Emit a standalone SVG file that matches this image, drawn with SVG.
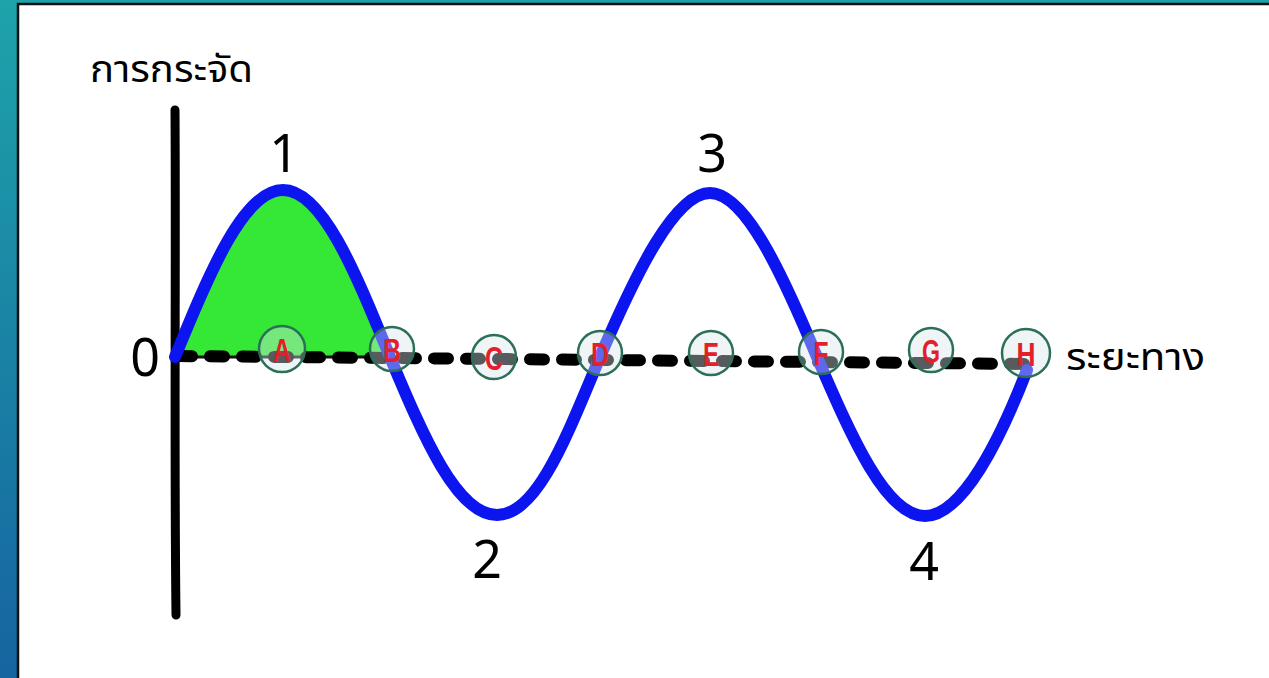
<svg xmlns="http://www.w3.org/2000/svg" width="1269" height="678" viewBox="0 0 1269 678">
<defs>
<linearGradient id="bg" x1="0" y1="0" x2="0" y2="1">
<stop offset="0" stop-color="#1ea3aa"/>
<stop offset="1" stop-color="#1664a0"/>
</linearGradient>
<style>
.num{font-family:"Noto Sans","DejaVu Sans",sans-serif;font-size:52px;fill:#000;text-anchor:middle}
.thai{font-family:"Noto Sans Thai","Loma","Garuda","Norasi","Noto Sans",sans-serif;font-size:38px;fill:#000}
.pt circle{fill:#d6e6e8;fill-opacity:0.4;stroke:#2c6f58;stroke-width:2.5}
.pt text{font-family:"Liberation Sans",Arial,sans-serif;font-weight:bold;font-size:34px;fill:#e3202a;text-anchor:middle}
.wave{fill:none;stroke:#0c14f0;stroke-width:12;stroke-linecap:round;stroke-linejoin:round}
</style>
</defs>
<rect x="0" y="0" width="1269" height="678" fill="url(#bg)"/>
<rect x="18" y="4" width="1253" height="676" fill="#fff" stroke="#111" stroke-width="2.5"/>

<g id="hump-fill">
<path d="M178,357 C210,271 244,190 283,190 C322,190 355,271 390,357 Z" fill="#35e835" stroke="#111" stroke-width="3"/>
</g>

<g id="axes">
<path d="M175,110 C176,250 174,450 176,615" fill="none" stroke="#000" stroke-width="9" stroke-linecap="round"/>
<path d="M178,356 L1030,364" fill="none" stroke="#000" stroke-width="12" stroke-linecap="round" stroke-dasharray="14 18"/>
</g>

<g id="connectors">
<path class="wave" d="M175,357 C210,271 244,190 283,190 C322,190 355,271 390,357 C424,438 457,515 497,515 C537,515 566,438 600,357 C636,273 675,193 710,193 C745,193 782,273 817,357 C852,438 886,516 925,516 C962,516 1000,440 1027,370"/>
</g>

<g id="A" class="pt"><circle cx="282" cy="349" r="23"/><text x="282" y="362" textLength="18" lengthAdjust="spacingAndGlyphs">A</text></g>
<g id="B" class="pt"><circle cx="392" cy="349" r="22"/><text x="392" y="362" textLength="18" lengthAdjust="spacingAndGlyphs">B</text></g>
<g id="C" class="pt"><circle cx="494" cy="357" r="22"/><text x="494" y="370" textLength="18" lengthAdjust="spacingAndGlyphs">C</text></g>
<g id="D" class="pt"><circle cx="600" cy="353" r="22"/><text x="600" y="366" textLength="18" lengthAdjust="spacingAndGlyphs">D</text></g>
<g id="E" class="pt"><circle cx="711" cy="353" r="22"/><text x="711" y="366" textLength="16" lengthAdjust="spacingAndGlyphs">E</text></g>
<g id="F" class="pt"><circle cx="821" cy="352" r="22"/><text x="821" y="365" textLength="15" lengthAdjust="spacingAndGlyphs">F</text></g>
<g id="G" class="pt"><circle cx="931" cy="350" r="22"/><text x="931" y="363" textLength="18" lengthAdjust="spacingAndGlyphs">G</text></g>
<g id="H" class="pt"><circle cx="1026" cy="353" r="24"/><text x="1026" y="366" textLength="19" lengthAdjust="spacingAndGlyphs">H</text></g>

<g id="labels">
<text class="num" x="145" y="376">0</text>
<text class="num" x="284" y="172">1</text>
<text class="num" x="712" y="172">3</text>
<text class="num" x="487" y="578">2</text>
<text class="num" x="924" y="580">4</text>
<text class="thai" x="90" y="82" textLength="163" lengthAdjust="spacingAndGlyphs">การกระจัด</text>
<text class="thai" x="1066" y="370" textLength="139" lengthAdjust="spacingAndGlyphs">ระยะทาง</text>
</g>
</svg>
